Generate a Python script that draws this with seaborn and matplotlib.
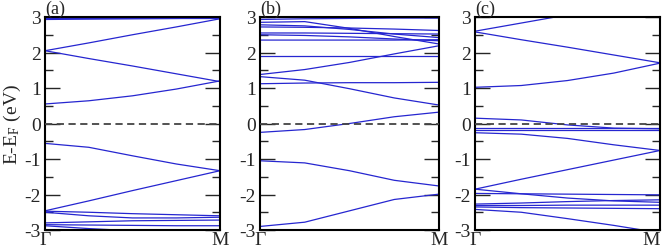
import numpy as np
import pandas as pd
import matplotlib
matplotlib.use("Agg")
import matplotlib.pyplot as plt
from matplotlib.ticker import MultipleLocator
import seaborn as sns

# k-path sample points (Gamma -> M)
K = [0.0, 0.25, 0.5, 0.75, 1.0]
nan = np.nan

# Panel (a) bands, energies (eV) at K
bands_a = [
    [2.98, 2.98, 2.98, 2.98, 2.98],
    [2.93, 2.94, 2.95, 2.96, 2.97],
    [2.05, 2.27, 2.50, 2.72, 2.95],
    [2.05, 1.83, 1.62, 1.40, 1.18],
    [0.55, 0.64, 0.78, 0.97, 1.20],
    [-0.56, -0.67, -0.91, -1.14, -1.33],
    [-2.46, -2.18, -1.89, -1.61, -1.33],
    [-2.47, -2.50, -2.54, -2.57, -2.60],
    [-2.50, -2.60, -2.66, -2.66, -2.64],
    [-2.80, -2.77, -2.74, -2.73, -2.72],
    [-2.85, -2.86, -2.87, -2.88, -2.88],
    [-2.88, -2.96, -3.02, nan, nan],
]

# Panel (b) bands
bands_b = [
    [3.00, 3.00, 3.00, 3.00, 3.00],
    [2.93, 2.95, 2.96, 2.97, 2.97],
    [2.85, 2.87, 2.68, 2.45, 2.24],
    [2.78, 2.75, 2.65, 2.52, 2.42],
    [2.72, 2.71, 2.69, 2.66, 2.62],
    [2.55, 2.55, 2.54, 2.53, 2.52],
    [2.50, 2.48, 2.44, 2.38, 2.33],
    [2.35, 2.35, 2.35, 2.35, 2.36],
    [1.91, 1.91, 1.91, 1.91, 1.91],
    [1.38, 1.52, 1.72, 1.96, 2.19],
    [1.32, 1.22, 0.98, 0.72, 0.52],
    [1.12, 1.14, 1.15, 1.15, 1.16],
    [-0.25, -0.17, 0.00, 0.19, 0.32],
    [-1.05, -1.11, -1.33, -1.60, -1.76],
    [-2.90, -2.78, -2.46, -2.14, -1.99],
]

# Panel (c) bands
bands_c = [
    [2.60, 2.83, 3.06, nan, nan],
    [2.58, 2.36, 2.15, 1.93, 1.71],
    [1.02, 1.07, 1.21, 1.42, 1.70],
    [0.15, 0.10, -0.04, -0.13, -0.15],
    [-0.13, -0.13, -0.13, -0.13, -0.13],
    [-0.18, -0.18, -0.18, -0.18, -0.18],
    [-0.26, -0.30, -0.42, -0.60, -0.76],
    [-1.85, -1.57, -1.30, -1.03, -0.76],
    [-1.97, -1.98, -1.99, -2.00, -2.01],
    [-1.85, -1.98, -2.10, -2.18, -2.22],
    [-2.27, -2.24, -2.20, -2.17, -2.15],
    [-2.31, -2.31, -2.30, -2.30, -2.30],
    [-2.35, -2.37, -2.38, -2.39, -2.40],
    [-2.42, -2.50, -2.68, -2.87, -3.08],
]

panel_labels = ["(a)", "(b)", "(c)"]
kpoint_labels = ["Γ", "M"]
ylabel_text = "E-E$_\\mathregular{F}$ (eV)"

sns.set_style("ticks")
plt.rcParams["font.family"] = ["Liberation Serif", "DejaVu Serif"]
plt.rcParams["mathtext.fontset"] = "stix"
plt.rcParams["axes.unicode_minus"] = False

fig = plt.figure(figsize=(6.63, 2.51), dpi=100)
W, H = 663.0, 251.0
boxes = [(45, 220), (260, 439), (475, 660)]
top_px, bot_px = 18, 231

band_color = "#2626d0"

for i, (bands, (l, r)) in enumerate(zip([bands_a, bands_b, bands_c], boxes)):
    ax = fig.add_axes([l / W, (H - bot_px) / H, (r - l) / W, (bot_px - top_px) / H])
    rows = []
    for j, b in enumerate(bands):
        for kk, e in zip(K, b):
            rows.append({"band": j, "k": kk, "E": e})
    df = pd.DataFrame(rows)
    sns.lineplot(data=df, x="k", y="E", units="band", estimator=None,
                 color=band_color, lw=0.9, ax=ax, legend=False, sort=False)
    ax.axhline(0, color="#444444", ls=(0, (4, 2.5)), lw=1.3, zorder=3)
    ax.set_xlim(0, 1)
    ax.set_ylim(-3, 3)
    ax.set_xticks([0, 1])
    ax.set_xticklabels(kpoint_labels)
    ax.yaxis.set_major_locator(MultipleLocator(1))
    ax.yaxis.set_minor_locator(MultipleLocator(0.5))
    ax.tick_params(axis="y", which="major", direction="in", length=11, width=1.0,
                   left=True, right=True, labelsize=14, pad=3)
    ax.tick_params(axis="y", which="minor", direction="in", length=6, width=1.0,
                   left=True, right=True)
    ax.tick_params(axis="x", length=0, labelsize=14, pad=1)
    ax.set_xlabel("")
    ax.set_ylabel("")
    for s in ax.spines.values():
        s.set_visible(True)
        s.set_linewidth(1.5)
        s.set_color("black")
    ax.text(0.0, 1.0, panel_labels[i], transform=ax.transAxes, fontsize=13,
            ha="left", va="bottom")
    if i == 0:
        ax.set_ylabel(ylabel_text, fontsize=14, labelpad=1)
    if i == 2:
        ax.get_xticklabels()[1].set_horizontalalignment("right")

fig.savefig("out.png", dpi=100)
